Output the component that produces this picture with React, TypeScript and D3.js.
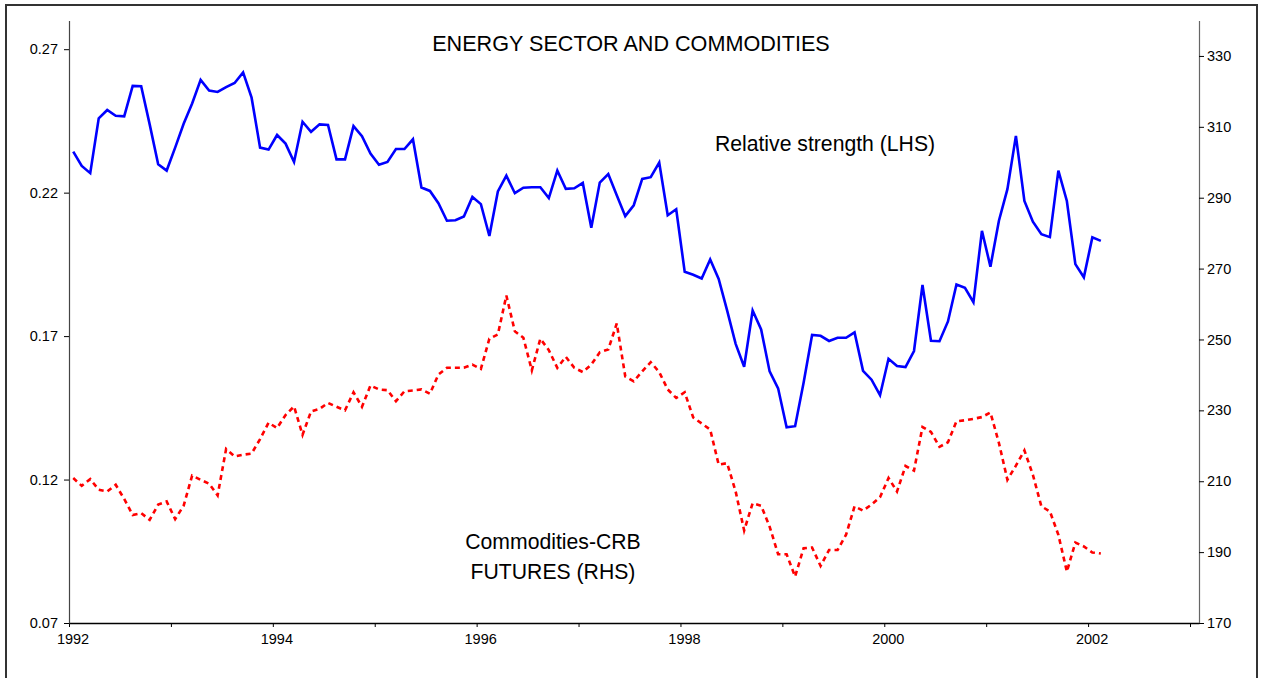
import { useEffect, useRef } from 'react';
import * as d3 from 'd3';

// monthly observations, Jan 1992 .. Feb 2002
const START_YEAR = 1992;

const relStrength = [
  0.2343, 0.2293, 0.2268, 0.2459, 0.2488, 0.2468, 0.2466, 0.2572, 0.2571, 0.2438, 0.2299, 0.2277,
  0.2357, 0.2440, 0.2511, 0.2593, 0.2556, 0.2551, 0.2568, 0.2582, 0.2619, 0.2531, 0.2357, 0.2350,
  0.2401, 0.2371, 0.2307, 0.2447, 0.2412, 0.2438, 0.2436, 0.2316, 0.2316, 0.2432, 0.2397, 0.2336,
  0.2297, 0.2307, 0.2352, 0.2352, 0.2386, 0.2218, 0.2206, 0.2163, 0.2102, 0.2104, 0.2117, 0.2185,
  0.2160, 0.2049, 0.2204, 0.2259, 0.2198, 0.2217, 0.2219, 0.2219, 0.2181, 0.2277, 0.2213, 0.2215,
  0.2234, 0.2078, 0.2235, 0.2265, 0.2191, 0.2118, 0.2156, 0.2248, 0.2254, 0.2305, 0.2121, 0.2142,
  0.1924, 0.1914, 0.1901, 0.1967, 0.1899, 0.1789, 0.1673, 0.1593, 0.1789, 0.1723, 0.1577, 0.1518,
  0.1382, 0.1386, 0.1537, 0.1704, 0.1701, 0.1683, 0.1694, 0.1694, 0.1713, 0.1579, 0.1548, 0.1494,
  0.1621, 0.1596, 0.1592, 0.1648, 0.1878, 0.1684, 0.1682, 0.1751, 0.1880, 0.1868, 0.1818, 0.2067,
  0.1942, 0.2102, 0.2212, 0.2398, 0.2171, 0.2099, 0.2055, 0.2045, 0.2277, 0.2171, 0.1951, 0.1905,
  0.2044, 0.2032,
];

const crbFutures = [
  210.9, 208.7, 210.6, 207.6, 207.1, 209.0, 205.0, 200.5, 201.0, 199.1, 203.4, 204.3,
  199.3, 203.1, 211.6, 210.4, 209.3, 206.0, 219.1, 217.0, 217.5, 217.8, 221.9, 226.5,
  225.0, 228.7, 231.1, 223.1, 229.7, 230.4, 232.1, 231.0, 230.0, 235.1, 231.0, 237.0,
  235.9, 235.7, 232.6, 235.4, 235.6, 235.9, 234.7, 240.1, 242.0, 242.0, 242.0, 242.9,
  241.7, 250.2, 251.4, 262.4, 252.3, 250.5, 241.3, 250.2, 247.0, 242.0, 245.1, 242.0,
  240.8, 242.9, 246.4, 247.2, 254.5, 239.6, 238.2, 241.0, 243.6, 240.8, 235.9, 233.5,
  235.1, 228.0, 226.3, 224.6, 214.7, 215.1, 207.1, 196.1, 203.8, 203.1, 197.2, 189.4,
  189.4, 183.1, 191.1, 191.3, 186.1, 190.6, 190.6, 194.9, 202.9, 201.7, 203.4, 205.5,
  210.9, 207.1, 214.3, 213.0, 225.3, 223.9, 219.7, 221.0, 226.9, 227.2, 227.6, 228.1,
  229.4, 220.8, 210.4, 214.4, 218.7, 211.8, 202.9, 201.5, 194.9, 184.5, 192.7, 191.6,
  189.9, 189.6,
];

const yearTicks = [1992, 1993, 1994, 1995, 1996, 1997, 1998, 1999, 2000, 2001, 2002, 2003];
const leftTicks = [0.07, 0.12, 0.17, 0.22, 0.27];
const rightTicks = [170, 190, 210, 230, 250, 270, 290, 310, 330];

const W = 1265;
const H = 678;
const plot = { left: 69, right: 1199, top: 20, bottom: 623 };

const App = () => {
  const svgRef = useRef<SVGSVGElement | null>(null);

  useEffect(() => {
    if (!svgRef.current) return;
    const svg = d3.select(svgRef.current);
    svg.selectAll('*').remove();

    const yearPx = (1190 - plot.left) / 11;
    const x = d3.scaleLinear()
      .domain([START_YEAR, 2003 + (plot.right - 1190) / yearPx])
      .range([plot.left, plot.right]);
    const yL = d3.scaleLinear().domain([0.07, 0.28]).range([plot.bottom, plot.top + 0.5]);
    const yR = d3.scaleLinear().domain([170, 340]).range([plot.bottom, plot.top + 0.5]);
    const t = (i: number) => START_YEAR + (i + 0.5) / 12;

    // frame
    svg.append('rect')
      .attr('x', 6).attr('y', 5)
      .attr('width', 1251).attr('height', 700)
      .attr('fill', 'none').attr('stroke', '#333').attr('stroke-width', 2);

    const font = 'Liberation Sans, Arial, sans-serif';

    // x axis
    const gx = svg.append('g')
      .attr('transform', `translate(0,${plot.bottom})`)
      .call(d3.axisBottom(x).tickValues(yearTicks).tickSize(4).tickSizeOuter(0)
        .tickFormat((d: any) => (d % 2 === 0 && d < 2003 ? String(d) : '')));
    gx.select('.domain').attr('stroke', '#000').attr('stroke-width', 1.3);
    gx.selectAll('.tick line').attr('stroke', '#000');
    gx.selectAll('text')
      .attr('dx', 3.5).attr('dy', 14)
      .style('font-family', font).style('font-size', '14.5px').attr('fill', '#000');

    // left axis
    const gl = svg.append('g')
      .attr('transform', `translate(${plot.left},0)`)
      .call(d3.axisLeft(yL).tickValues(leftTicks).tickSize(5).tickSizeOuter(0)
        .tickFormat(d3.format('.2f')));
    gl.select('.domain').attr('stroke', '#444').attr('stroke-width', 1.2);
    gl.selectAll('.tick line').attr('stroke', '#000');
    gl.selectAll('text')
      .attr('x', -11)
      .style('font-family', font).style('font-size', '14.5px').attr('fill', '#000');

    // right axis
    const gr = svg.append('g')
      .attr('transform', `translate(${plot.right},0)`)
      .call(d3.axisRight(yR).tickValues(rightTicks).tickSize(5).tickSizeOuter(0));
    gr.select('.domain').attr('stroke', '#666').attr('stroke-width', 1.2);
    gr.selectAll('.tick line').attr('stroke', '#000');
    gr.selectAll('text')
      .attr('x', 8)
      .style('font-family', font).style('font-size', '14.5px').attr('fill', '#000');

    // series
    const lineL = d3.line<number>().x((_, i) => x(t(i))).y(d => yL(d));
    const lineR = d3.line<number>().x((_, i) => x(t(i))).y(d => yR(d));

    svg.append('path')
      .datum(crbFutures)
      .attr('d', lineR)
      .attr('fill', 'none')
      .attr('stroke', '#ff0000')
      .attr('stroke-width', 2.6)
      .attr('stroke-dasharray', '5,4');

    svg.append('path')
      .datum(relStrength)
      .attr('d', lineL)
      .attr('fill', 'none')
      .attr('stroke', '#0000ff')
      .attr('stroke-width', 2.6)
      .attr('stroke-linejoin', 'miter');

    // labels
    const label = (txt: string, cx: number, by: number, size = 21) =>
      svg.append('text')
        .attr('x', cx).attr('y', by)
        .attr('text-anchor', 'middle')
        .style('font-family', font).style('font-size', `${size}px`)
        .attr('fill', '#000')
        .text(txt);

    label('ENERGY SECTOR AND COMMODITIES', 631, 51, 21.6);
    label('Relative strength (LHS)', 825, 151, 21.2);
    label('Commodities-CRB', 553, 549, 21.2);
    label('FUTURES (RHS)', 553, 579, 21.2);
  }, []);

  return (
    <svg
      ref={svgRef}
      width={W}
      height={H}
      style={{ position: 'absolute', left: 0, top: 0, background: '#fff' }}
    />
  );
};

export default App;
